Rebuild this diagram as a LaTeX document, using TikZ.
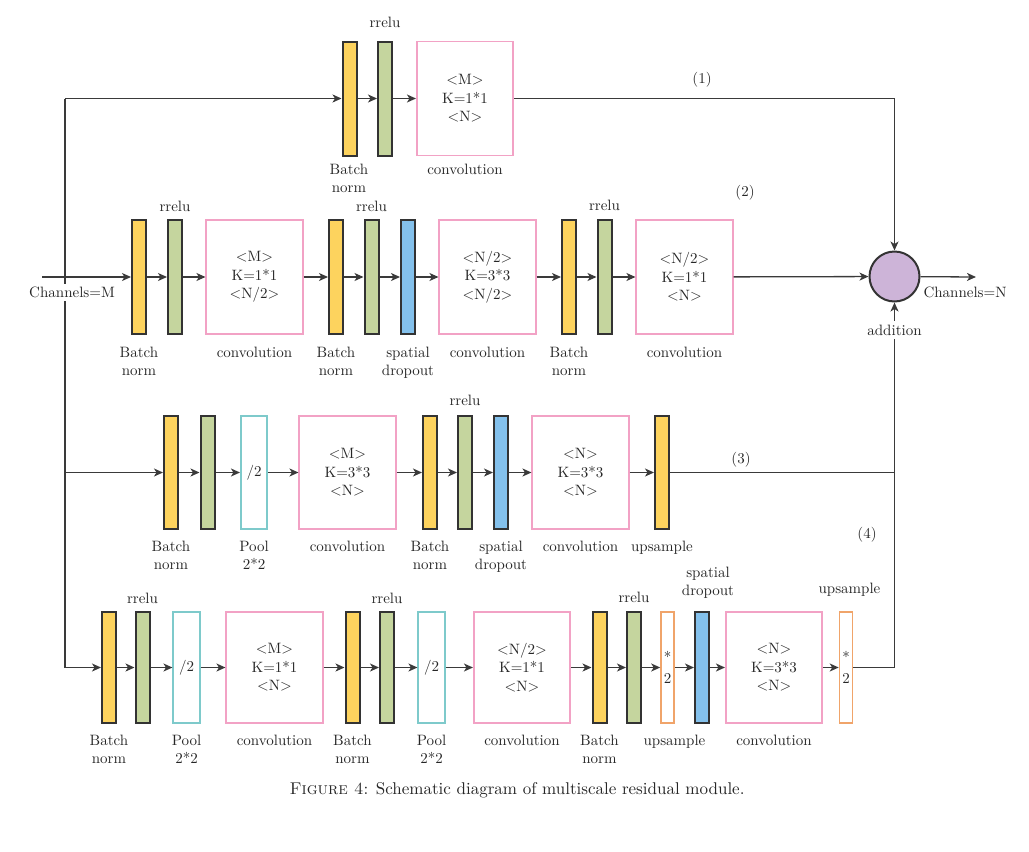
\documentclass[tikz,border=0pt]{standalone}
\usepackage{fontspec}
\setmainfont{lmroman10-regular.otf}[SmallCapsFont=lmromancaps10-regular.otf]
\usetikzlibrary{arrows.meta,positioning}
\definecolor{dk}{HTML}{333333}
\definecolor{ln}{HTML}{3A3A3A}
\definecolor{yel}{HTML}{FDD35E}
\definecolor{grn}{HTML}{C5D59E}
\definecolor{blu}{HTML}{84C1EC}
\definecolor{pnk}{HTML}{F2A2C5}
\definecolor{cyn}{HTML}{7ECACB}
\definecolor{org}{HTML}{F0A46A}
\definecolor{pur}{HTML}{CDB4D8}
\definecolor{txt}{HTML}{262626}
\newcommand\fnt{\fontsize{15}{18.5}\selectfont}
\tikzset{
  blk/.style={minimum height=114pt, inner sep=0pt, anchor=center},
  bar/.style={blk, draw=dk, line width=2pt, minimum width=14pt},
  ybar/.style={bar, fill=yel},
  gbar/.style={bar, fill=grn},
  bbar/.style={bar, fill=blu},
  conv/.style={blk, draw=pnk, line width=1.6pt, minimum width=96.5pt, align=center, text=txt},
  pool/.style={blk, draw=cyn, line width=1.6pt, minimum width=26.5pt, text=txt},
  ups/.style={blk, draw=org, line width=1.6pt, minimum width=13pt, align=center, text=txt, font=\fontsize{15}{21}\selectfont},
  lab/.style={inner sep=0pt, anchor=north, align=center, text=txt},
  con/.style={draw=ln, line width=1.3pt},
  arr/.style={con, -{Stealth[length=9pt,width=8pt,inset=2.5pt]}},
}
\begin{document}
\begin{tikzpicture}[x=1pt,y=-1pt,font=\fnt]
\useasboundingbox (0,0) rectangle (1029,852);
% ---------- addition ----------
\node[circle, draw=dk, line width=2pt, fill=pur, minimum size=50pt, inner sep=0] (add) at (894.5,276.5) {};
% ---------- row 1 ----------
\node[ybar] (r1a) at (349.5,98.5) {};
\node[gbar] (r1b) at (385,98.5) {};
\node[conv] (r1c) at (465,98.5) {<M>\\K=1*1\\<N>};
% ---------- row 2 ----------
\node[ybar] (r2a) at (139,277) {};
\node[gbar] (r2b) at (175,277) {};
\node[conv] (r2c) at (254.5,277) {<M>\\K=1*1\\<N/2>};
\node[ybar] (r2d) at (336,277) {};
\node[gbar] (r2e) at (371.5,277) {};
\node[bbar] (r2f) at (408,277) {};
\node[conv] (r2g) at (487.5,277) {<N/2>\\K=3*3\\<N/2>};
\node[ybar] (r2h) at (569,277) {};
\node[gbar] (r2i) at (604.5,277) {};
\node[conv] (r2j) at (684.5,277) {<N/2>\\K=1*1\\<N>};
% ---------- row 3 ----------
\begin{scope}[blk/.append style={minimum height=113.5pt}]
\node[ybar] (r3a) at (171,472.5) {};
\node[gbar] (r3b) at (207.5,472.5) {};
\node[pool] (r3c) at (254,472.5) {/2};
\node[conv] (r3d) at (347.5,472.5) {<M>\\K=3*3\\<N>};
\node[ybar] (r3e) at (430,472.5) {};
\node[gbar] (r3f) at (465,472.5) {};
\node[bbar] (r3g) at (501,472.5) {};
\node[conv] (r3h) at (580.5,472.5) {<N>\\K=3*3\\<N>};
\node[ybar] (r3i) at (662,472.5) {};
\end{scope}
% ---------- row 4 ----------
\begin{scope}[blk/.append style={minimum height=111pt}]
\node[ybar] (r4a) at (109,667.5) {};
\node[gbar] (r4b) at (142.5,667.5) {};
\node[pool] (r4c) at (186.5,667.5) {/2};
\node[conv] (r4d) at (274.5,667.5) {<M>\\K=1*1\\<N>};
\node[ybar] (r4e) at (352.5,667.5) {};
\node[gbar] (r4f) at (387,667.5) {};
\node[pool] (r4g) at (431.5,667.5) {/2};
\node[conv] (r4h) at (522,667.5) {<N/2>\\K=1*1\\<N>};
\node[ybar] (r4i) at (599.5,667.5) {};
\node[gbar] (r4j) at (634,667.5) {};
\node[ups] (r4k) at (667.5,667.5) {*\\2};
\node[bbar] (r4l) at (702,667.5) {};
\node[conv] (r4m) at (774,667.5) {<N>\\K=3*3\\<N>};
\node[ups] (r4n) at (846,667.5) {*\\2};
\end{scope}
% ---------- coordinates ----------
\coordinate (t1) at (65,98.5);
\coordinate (t3) at (65,472.5);
\coordinate (t4) at (65,667.5);
\coordinate (in) at (42,277);
\coordinate (out) at (976,277);
\coordinate (j3) at (894.5,472.5);
% ---------- connectors ----------
\draw[con] (t1) -- (t4);
\draw[arr] (t1) -- (r1a);
\draw[arr] (r1a) -- (r1b);
\draw[arr] (r1b) -- (r1c);
\draw[arr] (r1c.east) -| (add.north);
\draw[arr] (in) -- (r2a);
\draw[arr] (r2a) -- (r2b);
\draw[arr] (r2b) -- (r2c);
\draw[arr] (r2c) -- (r2d);
\draw[arr] (r2d) -- (r2e);
\draw[arr] (r2e) -- (r2f);
\draw[arr] (r2f) -- (r2g);
\draw[arr] (r2g) -- (r2h);
\draw[arr] (r2h) -- (r2i);
\draw[arr] (r2i) -- (r2j);
\draw[arr] (r2j) -- (add);
\draw[arr] (add) -- (out);
\draw[arr] (t3) -- (r3a);
\draw[arr] (r3a) -- (r3b);
\draw[arr] (r3b) -- (r3c);
\draw[arr] (r3c) -- (r3d);
\draw[arr] (r3d) -- (r3e);
\draw[arr] (r3e) -- (r3f);
\draw[arr] (r3f) -- (r3g);
\draw[arr] (r3g) -- (r3h);
\draw[arr] (r3h) -- (r3i);
\draw[con] (r3i) -- (j3);
\draw[arr] (j3) -- (add.south);
\draw[arr] (t4) -- (r4a);
\draw[arr] (r4a) -- (r4b);
\draw[arr] (r4b) -- (r4c);
\draw[arr] (r4c) -- (r4d);
\draw[arr] (r4d) -- (r4e);
\draw[arr] (r4e) -- (r4f);
\draw[arr] (r4f) -- (r4g);
\draw[arr] (r4g) -- (r4h);
\draw[arr] (r4h) -- (r4i);
\draw[arr] (r4i) -- (r4j);
\draw[arr] (r4j) -- (r4k);
\draw[arr] (r4k) -- (r4l);
\draw[arr] (r4l) -- (r4m);
\draw[arr] (r4m) -- (r4n);
\draw[con] (r4n.east) -| (j3);
% ---------- labels ----------
\node[lab, fill=white, inner sep=3pt] (lcm) at (72,283.5) {Channels=M};
\node[lab] (lcn) at (965,286.5) {Channels=N};
\node[lab, fill=white, inner sep=4pt] (ladd) at (894.5,320.5) {addition};
\node[text=txt] (n1) at (702,80) {(1)};
\node[text=txt] (n2) at (745,193) {(2)};
\node[text=txt] (n3) at (741,460) {(3)};
\node[text=txt] (n4) at (867,535) {(4)};
% row 1
\node[lab] at (385,17) {rrelu};
\node[lab] at (349,163.5) {Batch\\norm};
\node[lab] at (465,163.5) {convolution};
% row 2
\node[lab] at (175,200.5) {rrelu};
\node[lab] at (371.5,200.5) {rrelu};
\node[lab] at (604.5,199.5) {rrelu};
\node[lab] at (139,346.5) {Batch\\norm};
\node[lab] at (254.5,346.5) {convolution};
\node[lab] at (336,346.5) {Batch\\norm};
\node[lab] at (408,346.5) {spatial\\dropout};
\node[lab] at (487.5,346.5) {convolution};
\node[lab] at (569,346.5) {Batch\\norm};
\node[lab] at (684.5,346.5) {convolution};
% row 3
\node[lab] at (465,394.5) {rrelu};
\node[lab] at (171,540.5) {Batch\\norm};
\node[lab] at (254,540.5) {Pool\\2*2};
\node[lab] at (347.5,540.5) {convolution};
\node[lab] at (430,540.5) {Batch\\norm};
\node[lab] at (501,540.5) {spatial\\dropout};
\node[lab] at (580.5,540.5) {convolution};
\node[lab] at (662,540.5) {upsample};
% row 4
\node[lab] at (142.5,592.5) {rrelu};
\node[lab] at (387,592.5) {rrelu};
\node[lab] at (634,591.5) {rrelu};
\node[lab] at (708,566.5) {spatial\\dropout};
\node[lab] at (849.5,582.5) {upsample};
\node[lab] at (109,734.5) {Batch\\norm};
\node[lab] at (186.5,734.5) {Pool\\2*2};
\node[lab] at (274.5,734.5) {convolution};
\node[lab] at (352.5,734.5) {Batch\\norm};
\node[lab] at (431.5,734.5) {Pool\\2*2};
\node[lab] at (522,734.5) {convolution};
\node[lab] at (599.5,734.5) {Batch\\norm};
\node[lab] at (674.5,734.5) {upsample};
\node[lab] at (774,734.5) {convolution};
% caption
\node[text=txt, font=\fontsize{17}{20}\selectfont] (cap) at (517,790) {\textsc{Figure 4}: Schematic diagram of multiscale residual module.};
\end{tikzpicture}
\end{document}
